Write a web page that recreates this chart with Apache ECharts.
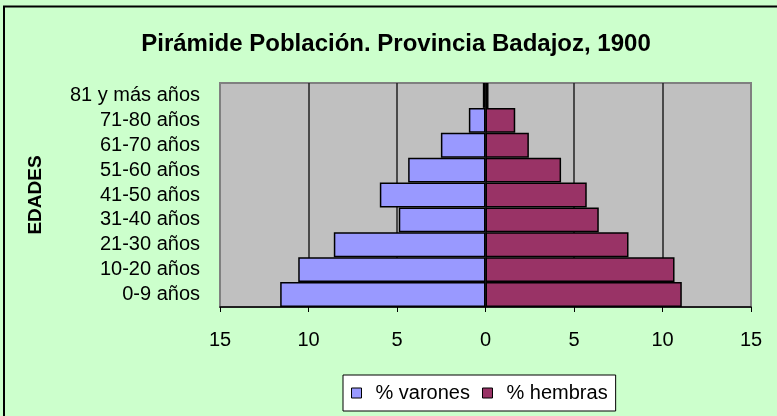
<!DOCTYPE html>
<html>
<head>
<meta charset="utf-8">
<script src="https://cdn.jsdelivr.net/npm/echarts@6/dist/echarts.min.js"></script>
<style>
  html, body { margin: 0; padding: 0; background: #CCFFCC; }
  #chart { width: 777px; height: 416px; }
</style>
</head>
<body>
<div id="chart"></div>
<script>
// grupos de edad (de abajo arriba)
const edades = ['0-9 años', '10-20 años', '21-30 años', '31-40 años', '41-50 años',
  '51-60 años', '61-70 años', '71-80 años', '81 y más años'];
// porcentajes
const varones = [11.6, 10.58, 8.57, 4.9, 5.97, 4.37, 2.52, 0.94, 0.15];
const hembras = [11.09, 10.68, 8.08, 6.4, 5.72, 4.27, 2.45, 1.68, 0.17];
const ejeX = { min: -15, max: 15, interval: 5 };

const font = 'Arial, "Liberation Sans", sans-serif';
const chart = echarts.init(document.getElementById('chart'));
chart.setOption({
  backgroundColor: '#CCFFCC',
  animation: false,
  title: {
    text: 'Pirámide Población. Provincia Badajoz, 1900',
    left: 391, top: 27, textAlign: 'center',
    textStyle: { fontFamily: font, fontSize: 24, fontWeight: 'bold', color: '#000' }
  },
  graphic: [
    { type: 'line', shape: { x1: 3, y1: 6.5, x2: 777, y2: 6.5 }, style: { stroke: '#000', lineWidth: 2 } },
    { type: 'line', shape: { x1: 4, y1: 6, x2: 4, y2: 416 }, style: { stroke: '#000', lineWidth: 2 } }
  ],
  legend: {
    left: 343, top: 375,
    padding: [8, 8, 8, 8],
    itemGap: 12,
    itemWidth: 10, itemHeight: 10,
    backgroundColor: '#fff',
    borderColor: '#000', borderWidth: 1,
    icon: 'rect',
    itemStyle: { borderColor: '#000', borderWidth: 1 },
    textStyle: { fontFamily: font, fontSize: 20, color: '#000', padding: [0, 0, 0, 9] },
    data: ['% varones', '% hembras']
  },
  grid: {
    left: 220, right: 26, top: 83, bottom: 109,
    show: true, backgroundColor: '#C0C0C0', borderColor: '#808080', borderWidth: 2
  },
  xAxis: {
    type: 'value',
    min: ejeX.min, max: ejeX.max, interval: ejeX.interval,
    axisLine: { show: true, onZero: false, lineStyle: { color: '#000', width: 1.5 } },
    axisTick: { show: true, length: 5, lineStyle: { color: '#000' } },
    axisLabel: {
      fontFamily: font, fontSize: 20, color: '#000', margin: 23,
      formatter: v => Math.abs(v)
    },
    splitLine: {
      show: true,
      lineStyle: { color: ['#808080', '#222', '#222', '#222', '#222', '#222', '#808080'], width: 1.5 }
    }
  },
  yAxis: {
    type: 'category',
    data: edades,
    name: 'EDADES',
    nameLocation: 'middle',
    nameGap: 175,
    nameRotate: 90,
    nameTextStyle: { fontFamily: font, fontSize: 19, fontWeight: 'bold', color: '#000' },
    axisLine: { show: false },
    axisTick: { show: false },
    axisLabel: { fontFamily: font, fontSize: 20, color: '#000', margin: 20, interval: 0 }
  },
  series: [
    {
      name: '% varones', type: 'bar', stack: 'total',
      barWidth: '100%',
      data: varones.map(v => -v),
      itemStyle: { color: '#9999FF', borderColor: '#000', borderWidth: 1.5 }
    },
    {
      name: '% hembras', type: 'bar', stack: 'total',
      barWidth: '100%',
      data: hembras,
      itemStyle: { color: '#993366', borderColor: '#000', borderWidth: 1.5 }
    }
  ]
});
</script>
</body>
</html>
